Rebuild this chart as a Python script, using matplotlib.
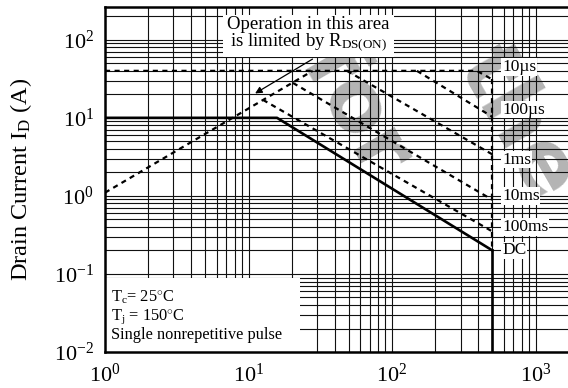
import matplotlib
matplotlib.use("Agg")
import matplotlib.pyplot as plt
from matplotlib.ticker import LogLocator, NullFormatter, FixedLocator
import matplotlib.patches as mpatches

plt.rcParams['font.family'] = ['Liberation Serif', 'DejaVu Serif']
plt.rcParams['mathtext.fontset'] = 'custom'
plt.rcParams['mathtext.rm'] = 'Liberation Serif'
plt.rcParams['mathtext.it'] = 'Liberation Serif:italic'

# ---- data (V_DS in volts, I_D in amps) ----
ron_v = [1, 28]
ron_i = [1.1, 40]
us10_v = [1, 390, 500]
us10_i = [40, 40, 31]
us100_v = [149, 500]
us100_i = [40, 10.3]
ms1_v = [48.5, 500]
ms1_i = [40, 3.4]
ms10_v = [20.4, 500]
ms10_i = [28, 0.89]
ms100_v = [12.6, 500]
ms100_i = [17, 0.35]
dc_v = [1, 15.8, 500]
dc_i = [10, 10, 0.2]
vmax_v = [500, 500]
vmax_dash_i = [31, 0.2]
vmax_solid_i = [0.2, 0.01]

curve_labels = ["10\u00b5s", "100\u00b5s", "1ms", "10ms", "100ms", "DC"]
label_i = [45, 12.7, 2.9, 1.0, 0.40, 0.20]

xticks = [1, 10, 100, 1000]
xticklabels = [r'$10^{0}$', r'$10^{1}$', r'$10^{2}$', r'$10^{3}$']
yticks = [0.01, 0.1, 1, 10, 100]
yticklabels = [r'$10^{-2}$', r'$10^{-1}$', r'$10^{0}$', r'$10^{1}$', r'$10^{2}$']

fig = plt.figure(figsize=(5.68, 3.88), dpi=100)
ax = fig.add_axes([105/568, 36/388, (568-105)/568, (352-7)/388])
ax.set_xscale('log')
ax.set_yscale('log')
ax.set_xlim(1, 10**3.226)
ax.set_ylim(0.01, 10**2.42)

# grid
ax.xaxis.set_major_locator(FixedLocator(xticks))
ax.yaxis.set_major_locator(FixedLocator(yticks))
ax.xaxis.set_minor_locator(LogLocator(base=10, subs=range(2, 10), numticks=20))
ax.yaxis.set_minor_locator(LogLocator(base=10, subs=range(2, 10), numticks=20))
ax.xaxis.set_minor_formatter(NullFormatter())
ax.yaxis.set_minor_formatter(NullFormatter())
ax.grid(True, which='both', color='#111111', lw=0.8, zorder=1)
ax.set_axisbelow(True)
ax.tick_params(which='both', length=0, labelsize=16, pad=8)
ax.set_xticklabels(xticklabels)
ax.set_yticklabels(yticklabels)

for s in ['left', 'bottom', 'top']:
    ax.spines[s].set_linewidth(1.8)
ax.spines['right'].set_visible(False)

# watermark
ax.text(0.54, 0.70, 'for', transform=ax.transAxes, fontsize=62, fontweight='bold',
        color='#b4b4b4', rotation=-60, ha='center', va='center', zorder=0.5,
        family='DejaVu Sans', clip_on=True)
ax.text(0.89, 0.66, 'the', transform=ax.transAxes, fontsize=62, fontweight='bold',
        color='#b4b4b4', rotation=-60, ha='center', va='center', zorder=0.5,
        family='DejaVu Sans', clip_on=True)

dash = (0, (2.3, 2.0))
lw = 1.6
ax.plot(ron_v, ron_i, color='black', lw=lw, ls=dash, zorder=3)
ax.plot(us10_v, us10_i, color='black', lw=lw, ls=dash, zorder=3)
ax.plot(us100_v, us100_i, color='black', lw=lw, ls=dash, zorder=3)
ax.plot(ms1_v, ms1_i, color='black', lw=lw, ls=dash, zorder=3)
ax.plot(ms10_v, ms10_i, color='black', lw=lw, ls=dash, zorder=3)
ax.plot(ms100_v, ms100_i, color='black', lw=lw, ls=dash, zorder=3)
ax.plot(vmax_v, vmax_dash_i, color='black', lw=lw, ls=dash, zorder=3)
ax.plot(dc_v, dc_i, color='black', lw=1.9, zorder=3)
ax.plot(vmax_v, vmax_solid_i, color='black', lw=1.9, zorder=3)

# curve labels
for txt, yi in zip(curve_labels, label_i):
    ax.text(585, yi, txt, fontsize=12.5, ha='left', va='center', zorder=4,
            bbox=dict(facecolor='white', edgecolor='none', pad=0.5))

# RDS(on) annotation
ax.text(0.44, 0.975, 'Operation in this area\nis limited by R$_{\\mathrm{DS(ON)}}$',
        transform=ax.transAxes, fontsize=13.5, ha='center', va='top', zorder=4,
        linespacing=0.92,
        bbox=dict(facecolor='white', edgecolor='none', pad=3))
ax.annotate('', xy=(10.7, 19.7), xytext=(29, 59),
            arrowprops=dict(arrowstyle='-|>', color='black', lw=0.9,
                            mutation_scale=10), zorder=4)

# conditions box
ax.add_patch(mpatches.Rectangle((0, 0), (300-105)/(568-105), (352-278)/345,
                                transform=ax.transAxes, facecolor='white',
                                edgecolor='none', zorder=2))
ax.text(0.012, 0.025, 'T$_{\\mathrm{c}}$= 25$^{\\circ}$C\nT$_{\\mathrm{j}}$ = 150$^{\\circ}$C\nSingle nonrepetitive pulse',
        transform=ax.transAxes, fontsize=11.8, ha='left', va='bottom', zorder=4,
        linespacing=1.1)

ax.set_ylabel('Drain Current I$_{\\mathrm{D}}$ (A)', fontsize=17.5, labelpad=14)

fig.savefig('out.png', dpi=100)
